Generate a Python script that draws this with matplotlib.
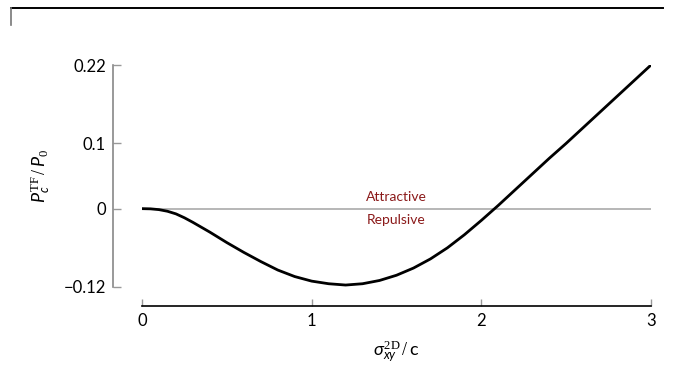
import numpy as np
import matplotlib.pyplot as plt
from matplotlib.lines import Line2D

plt.rcParams['font.family'] = ['Lato', 'DejaVu Sans']
plt.rcParams['mathtext.fontset'] = 'custom'
plt.rcParams['mathtext.rm'] = 'Liberation Serif'
plt.rcParams['mathtext.it'] = 'Lato:italic'
plt.rcParams['mathtext.sf'] = 'Lato'

# pressure curve
sigma = [0.0, 0.05, 0.1, 0.15, 0.2, 0.25, 0.3, 0.4, 0.5, 0.6, 0.7, 0.8, 0.9, 1.0,
         1.1, 1.2, 1.3, 1.4, 1.5, 1.6, 1.7, 1.8, 1.9, 2.0,
         2.1, 2.2, 2.3, 2.4, 2.5, 2.6, 2.7, 2.8, 2.9, 3.0]
pressure = [0.0, -0.0003, -0.0015, -0.004, -0.008, -0.014, -0.021, -0.036, -0.052, -0.067,
            -0.081, -0.094, -0.104, -0.111,
            -0.115, -0.117, -0.115, -0.110, -0.102, -0.091, -0.077, -0.060, -0.040, -0.018,
            0.005, 0.029, 0.053, 0.077, 0.100, 0.124, 0.148, 0.172, 0.196, 0.22]
xticks = [0, 1, 2, 3]
yticks = [-0.12, 0, 0.1, 0.22]
yticklabels = ['\u22120.12', '0', '0.1', '0.22']

fig = plt.figure(figsize=(6.76, 3.65), dpi=100)
ax = fig.add_axes([0.2101, 0.2137, 0.7529, 0.6082])

ax.plot([0, 3], [0, 0], color='#aaaaaa', lw=1.2, zorder=1)
ax.plot(sigma, pressure, color='black', lw=2.0, zorder=2, solid_joinstyle='round')

ax.text(1.5, 0.008, 'Attractive', color='#8b1a1a', fontsize=10, ha='center', va='bottom')
ax.text(1.5, -0.008, 'Repulsive', color='#8b1a1a', fontsize=10, ha='center', va='top')

ax.set_xlim(0, 3)
ax.set_ylim(-0.12, 0.22)
ax.set_xticks(xticks)
ax.set_xticklabels([str(t) for t in xticks])
ax.set_yticks(yticks)
ax.set_yticklabels(yticklabels)

for s in ['top', 'right']:
    ax.spines[s].set_visible(False)
ax.spines['left'].set_position(('outward', 21))
ax.spines['bottom'].set_position(('outward', 14))
ax.spines['left'].set_color('#888888')
ax.spines['left'].set_linewidth(1.2)
ax.spines['bottom'].set_color('black')
ax.spines['bottom'].set_linewidth(1.2)
ax.tick_params(axis='y', direction='in', length=6, width=1, color='#999999',
               labelsize=12, pad=5)
ax.tick_params(axis='x', direction='in', length=5, width=1, color='#999999',
               labelsize=12, pad=5)

ax.set_xlabel(r'$\sigma_{xy}^{\mathrm{2D}}\,/\,\mathsf{c}$', fontsize=13, labelpad=6)
ax.set_ylabel(r'$P_c^{\mathrm{TF}}\,/\,P_0$', fontsize=13, labelpad=8)

# partial frame at the top
fig.add_artist(Line2D([11 / 676, 663 / 676], [1 - 8 / 365, 1 - 8 / 365],
                      color='black', lw=1.4, transform=fig.transFigure))
fig.add_artist(Line2D([11 / 676, 11 / 676], [1 - 8 / 365, 1 - 25 / 365],
                      color='#777777', lw=1.2, transform=fig.transFigure))

fig.savefig('out.png', dpi=100)
